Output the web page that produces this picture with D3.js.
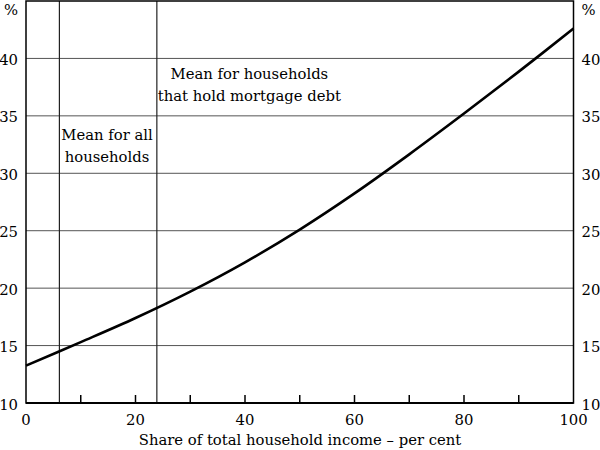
<!DOCTYPE html>
<html>
<head>
<meta charset="utf-8">
<script src="https://cdn.jsdelivr.net/npm/d3@7/dist/d3.min.js"></script>
<style>
html,body{margin:0;padding:0;background:#fff;}
svg text{font-family:"DejaVu Serif",serif;fill:#000;}
</style>
</head>
<body>
<svg id="chart" width="600" height="450"></svg>
<script>
const shareX = [0, 10, 20, 30, 40, 50, 60, 70, 80, 90, 100];
const rateY = [13.25, 15.3, 17.4, 19.7, 22.25, 25.1, 28.25, 31.65, 35.2, 38.85, 42.6];
const yTicks = [10, 15, 20, 25, 30, 35, 40];
const xTickLabels = [0, 20, 40, 60, 80, 100];
const xMinorTicks = [10, 20, 30, 40, 50, 60, 70, 80, 90];
const meanLines = [
  {x: 6.1, lines: ["Mean for all", "households"], labelX: 14.8, labelY: [32.86, 31.02]},
  {x: 23.9, lines: ["Mean for households", "that hold mortgage debt"], labelX: 40.8, labelY: [38.2, 36.27]}
];
const xTitle = "Share of total household income \u2013 per cent";

const svg = d3.select("#chart");
const FS = 14.8;
const L = 26, R = 573.5, T = 1, B = 403;
const x = d3.scaleLinear().domain([0, 100]).range([L, R]);
const y = d3.scaleLinear().domain([10, 45]).range([B, T]);

svg.append("g").selectAll("line").data(yTicks.filter(d => d > 10)).join("line")
  .attr("x1", L).attr("x2", R).attr("y1", d => y(d)).attr("y2", d => y(d))
  .attr("stroke", "#555").attr("stroke-width", 1);

svg.append("g").selectAll("line").data(xMinorTicks).join("line")
  .attr("x1", d => x(d)).attr("x2", d => x(d)).attr("y1", B).attr("y2", B - 8)
  .attr("stroke", "#000").attr("stroke-width", 1.5);

svg.append("g").selectAll("line").data(meanLines).join("line")
  .attr("x1", d => x(d.x)).attr("x2", d => x(d.x)).attr("y1", T).attr("y2", B)
  .attr("stroke", "#222").attr("stroke-width", 1.2);

svg.append("rect").attr("x", L).attr("y", T).attr("width", R - L).attr("height", B - T)
  .attr("fill", "none").attr("stroke", "#000").attr("stroke-width", 1.5);
svg.append("line").attr("x1", L).attr("x2", R).attr("y1", B).attr("y2", B)
  .attr("stroke", "#000").attr("stroke-width", 2);

const line = d3.line().x((d, i) => x(shareX[i])).y(d => y(d)).curve(d3.curveCatmullRom);
svg.append("path").datum(rateY).attr("d", line)
  .attr("fill", "none").attr("stroke", "#000").attr("stroke-width", 2.6);

const yl = svg.append("g").attr("font-size", FS);
yl.selectAll("text.l").data(yTicks).join("text").attr("class", "l")
  .attr("x", L - 8).attr("y", d => y(d) + 6.5).attr("text-anchor", "end").text(d => d);
yl.selectAll("text.r").data(yTicks).join("text").attr("class", "r")
  .attr("x", R + 8).attr("y", d => y(d) + 6.5).attr("text-anchor", "start").text(d => d);
yl.append("text").attr("x", L - 8).attr("y", 14.5).attr("text-anchor", "end").text("%");
yl.append("text").attr("x", R + 8).attr("y", 14.5).attr("text-anchor", "start").text("%");

svg.append("g").attr("font-size", FS).selectAll("text").data(xTickLabels).join("text")
  .attr("x", d => x(d)).attr("y", 425).attr("text-anchor", "middle").text(d => d);
svg.append("text").attr("font-size", FS).attr("x", 300).attr("y", 445)
  .attr("text-anchor", "middle").text(xTitle);

meanLines.forEach(m => {
  m.lines.forEach((t, i) => {
    svg.append("text").attr("font-size", FS).attr("x", x(m.labelX)).attr("y", y(m.labelY[i]))
      .attr("text-anchor", "middle").text(t);
  });
});
</script>
</body>
</html>
